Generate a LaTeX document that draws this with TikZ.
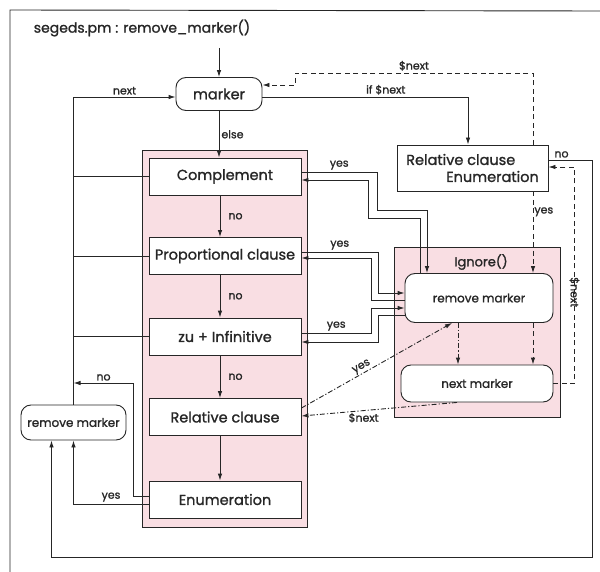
\documentclass[tikz,border=0pt]{standalone}
\usepackage{fontspec}
\setmainfont{Poppins}[UprightFeatures={FakeBold=1.2}]
\usetikzlibrary{arrows.meta, positioning, calc}
\definecolor{ink}{HTML}{262626}
\definecolor{blush}{HTML}{F9DEE3}

\begin{document}
\begin{tikzpicture}[x=1pt, y=-1pt, line width=0.9pt, color=ink,
    >={Latex[length=7pt, width=4.5pt]},
    box/.style={draw=ink, fill=white, minimum width=152pt, minimum height=37pt, inner sep=2pt, font=\fontsize{14.5}{17}\selectfont},
    roundbox/.style={box, rounded corners=10pt},
    small/.style={font=\fontsize{12}{14}\selectfont},
    lbl/.style={font=\fontsize{11}{13}\selectfont, inner sep=2pt},
    region/.style={draw=ink, fill=blush},
    dashline/.style={dash pattern=on 5pt off 3.5pt},
    dotdash/.style={dash pattern=on 5pt off 2pt on 1.2pt off 2pt}]
  \useasboundingbox (0,0) rectangle (600,572);
  % frame and title
  \draw (10,572) -- (10,10) -- (600,11);
  \node[anchor=west, font=\fontsize{14}{16}\selectfont] (title) at (30,28) {segeds.pm : remove\_marker()};
  % shaded regions
  \draw[region] (142,150) rectangle (307,527);
  \draw[region] (394,247) rectangle (560,417);
  \node[font=\fontsize{13}{15}\selectfont] (ignore) at (481,262) {Ignore()};
  % nodes
  \node[roundbox, minimum width=86pt, minimum height=33pt] (marker) at (219,94) {marker};
  \node[box] (comp) at (225,176.5) {Complement};
  \node[box] (prop) at (225,256) {Proportional clause};
  \node[box] (zu) at (225,336.5) {zu + Infinitive};
  \node[box] (rel) at (225,417) {Relative clause};
  \node[box] (enum) at (225,499.5) {Enumeration};
  \node[box, minimum width=151pt, minimum height=46pt, align=left] (relenum) at (472.5,168)
    {Relative clause\\\hspace*{40pt}Enumeration};
  \node[roundbox, small, minimum width=148pt, minimum height=49pt] (rmin) at (479,298) {remove marker};
  \node[roundbox, small, minimum width=152pt, minimum height=37pt] (nextm) at (477,383.5) {next marker};
  \node[roundbox, small, minimum width=105pt, minimum height=35pt] (rmout) at (73.5,422.5) {remove marker};
  \coordinate (entry) at (219,48);
  \coordinate (nojoin) at (73.5,383);
  % main flow
  \draw[->] (entry) -- (marker);
  \draw[->] (marker) -- node[lbl, right] {else} (marker.south |- comp.north);
  \draw[->] ([xshift=-5pt]comp.south) -- node[lbl, right, xshift=6pt] {no} ([xshift=-5pt]prop.north);
  \draw[->] ([xshift=-5pt]prop.south) -- node[lbl, right, xshift=6pt] {no} ([xshift=-5pt]zu.north);
  \draw[->] ([xshift=-5pt]zu.south) -- node[lbl, right, xshift=6pt] {no} ([xshift=-5pt]rel.north);
  \draw[->] ([xshift=-5pt]rel.south) -- ([xshift=-5pt]enum.north);
  % back to marker
  \draw[->] (rmout.north) |- node[lbl, above, pos=0.75] {next} ([yshift=-3pt]marker.west);
  \draw (comp.west) -- (comp.west -| rmout.north);
  \draw (prop.west) -- (prop.west -| rmout.north);
  \draw (zu.west) -- (zu.west -| rmout.north);
  \draw[->] ([yshift=3.5pt]enum.west) -- ++(-15,0) |- node[lbl, above, pos=0.75] {no} (nojoin);
  \draw[->] ([yshift=-4.5pt]enum.west) -| node[lbl, above, pos=0.25] {yes} (rmout.south);
  % if $next
  \draw[->] ([yshift=-3pt]marker.east) -| node[lbl, above, pos=0.3] {if \$next} ([xshift=-4.5pt]relenum.north);
  \draw[dashline, ->] ([xshift=60.5pt]relenum.north) -- (533,73) -- node[lbl, above] {\$next} (295,73) |- ([yshift=9pt]marker.east);
  \draw[->] ([yshift=8pt]relenum.east) -| node[lbl, above, pos=0.15] {no} (592,557) -| ([xshift=-22pt]rmout.south);
  % yes branches into Ignore()
  \draw[->] ([yshift=4.5pt]comp.east) -| node[lbl, above, pos=0.25] {yes} (377,210) -| ([xshift=-52pt]rmin.north);
  \draw[->] ([xshift=-59pt]rmin.north) |- (368,218) |- ([yshift=-3.5pt]comp.east);
  \draw[->] ([yshift=4pt]prop.east) -| node[lbl, above, pos=0.25] {yes} (378,293) -- ([yshift=5pt]rmin.west);
  \draw[->] ([yshift=-2pt]rmin.west) -| (371,258) -- ([yshift=-2pt]prop.east);
  \draw[->] ([yshift=3.5pt]zu.east) -| node[lbl, above, pos=0.25] {yes} (371,308) -- ([yshift=-10pt]rmin.west);
  \draw[->] ([yshift=-17pt]rmin.west) -| (378,342) -- ([yshift=-5.5pt]zu.east);
  % inside Ignore()
  \draw[dotdash, ->] ([xshift=-21pt]rmin.south) -- ([xshift=-19pt]nextm.north);
  \draw[dashline, ->] ([xshift=60.5pt]relenum.south) -- node[lbl, right, pos=0.25, inner sep=1pt] {yes} ([xshift=54pt]rmin.north);
  \draw[dashline, ->] ([xshift=54pt]rmin.south) -- ([xshift=56pt]nextm.north);
  \draw[dashline, ->] (nextm.east) -- ++(21,0) |- node[lbl, rotate=-90, pos=0.22, xshift=4pt] {\$next} ([yshift=1pt]relenum.east);
  \draw[dotdash, ->] ([yshift=9pt]rel.east) -- node[lbl, above, sloped, pos=0.42, inner sep=1pt] {yes} ([xshift=-27pt]rmin.south);
  \draw[dotdash, ->] ([xshift=-20pt]nextm.south) -- node[lbl, below, pos=0.6] {\$next} ([yshift=1pt]rel.east);
\end{tikzpicture}
\end{document}
